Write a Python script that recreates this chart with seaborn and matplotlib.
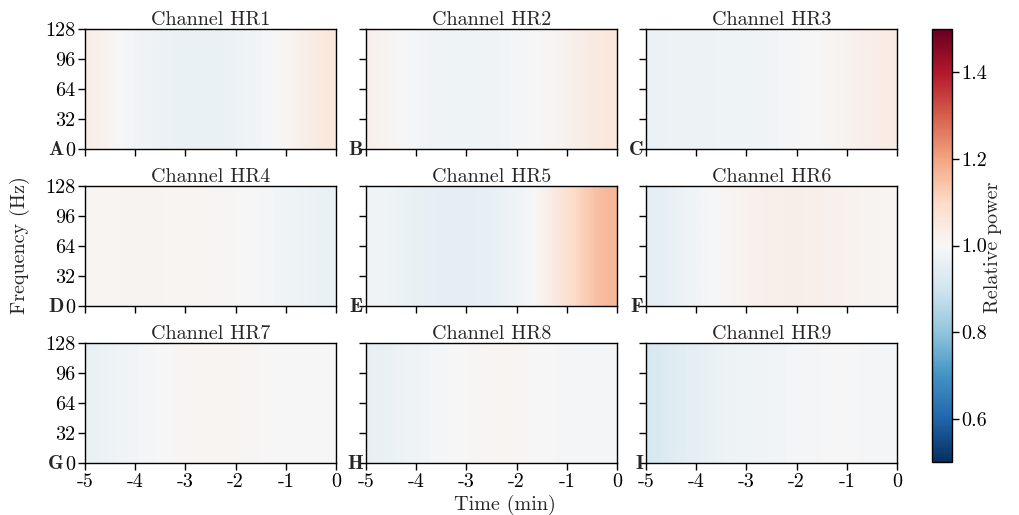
import numpy as np
import matplotlib
matplotlib.use("Agg")
import matplotlib.pyplot as plt
import seaborn as sns

sns.set_theme(style="ticks")
plt.rcParams['font.family'] = ['cmr10', 'DejaVu Serif']
plt.rcParams['axes.unicode_minus'] = False
plt.rcParams['mathtext.fontset'] = 'cm'
plt.rcParams['axes.formatter.use_mathtext'] = False

channels = ["HR1", "HR2", "HR3", "HR4", "HR5", "HR6", "HR7", "HR8", "HR9"]
letters = ["A", "B", "C", "D", "E", "F", "G", "H", "I"]
time_min = [-5, -4.5, -4, -3.5, -3, -2.5, -2, -1.5, -1, -0.5, 0]
freq_ticks = [0, 32, 64, 96, 128]
cbar_ticks = [0.6, 0.8, 1.0, 1.2, 1.4]

# relative power along time (one profile per channel)
hr1 = [1.03, 1.00, 0.98, 0.97, 0.965, 0.965, 0.97, 0.985, 1.00, 1.025, 1.055]
hr2 = [1.025, 1.00, 0.985, 0.98, 0.98, 0.98, 0.99, 1.00, 1.015, 1.035, 1.055]
hr3 = [0.97, 0.975, 0.975, 0.978, 0.98, 0.985, 0.995, 1.00, 1.015, 1.025, 1.04]
hr4 = [1.01, 1.012, 1.012, 1.012, 1.01, 1.008, 1.005, 0.998, 0.985, 0.975, 0.965]
hr5 = [0.985, 0.97, 0.96, 0.955, 0.955, 0.96, 0.975, 1.00, 1.06, 1.12, 1.17]
hr6 = [0.95, 0.97, 0.99, 1.01, 1.02, 1.025, 1.03, 1.025, 1.02, 1.015, 1.01]
hr7 = [0.965, 0.98, 0.99, 1.00, 1.01, 1.01, 1.01, 1.005, 1.00, 1.00, 1.00]
hr8 = [0.96, 0.975, 0.985, 0.995, 1.005, 1.01, 1.01, 1.00, 0.995, 0.99, 0.99]
hr9 = [0.92, 0.945, 0.96, 0.975, 0.98, 0.985, 0.99, 0.995, 1.00, 0.995, 0.99]
profiles = [hr1, hr2, hr3, hr4, hr5, hr6, hr7, hr8, hr9]

FS = 14.5

fig = plt.figure(figsize=(10.2, 5.15), dpi=100)
W, H = 1020.0, 515.0
col_x = [85, 366, 646]
ax_w = 251
row_y = [29, 186, 343]
ax_h = 120

cmap = sns.color_palette("RdBu_r", as_cmap=True)
im = None
for i, (name, prof) in enumerate(zip(channels, profiles)):
    r, c = divmod(i, 3)
    ax = fig.add_axes([col_x[c] / W, 1 - (row_y[r] + ax_h) / H, ax_w / W, ax_h / H])
    data = np.array([prof, prof])
    im = ax.imshow(data, cmap=cmap, vmin=0.5, vmax=1.5, aspect='auto',
                   origin='lower', extent=[-5, 0, 0, 128], interpolation='bicubic')
    ax.set_xlim(-5, 0)
    ax.set_ylim(0, 128)
    ax.set_xticks([-5, -4, -3, -2, -1, 0])
    ax.set_yticks(freq_ticks)
    ax.tick_params(direction='out', length=5, width=1, labelsize=FS, colors='black', pad=2)
    for s in ax.spines.values():
        s.set_color('black')
        s.set_linewidth(1.0)
    if c == 0:
        ax.set_yticklabels([str(v) for v in freq_ticks])
    else:
        ax.set_yticklabels([])
    if r == 2:
        ax.set_xticklabels(["-5", "-4", "-3", "-2", "-1", "0"])
    else:
        ax.set_xticklabels([])
    ax.set_title("Channel " + name, fontsize=FS, pad=2)
    # panel letter
    if c == 0:
        lx = 64
    else:
        lx = col_x[c] - 3
    fig.text(lx / W, 1 - (row_y[r] + ax_h + 6) / H, letters[i], ha='right', va='baseline',
             fontsize=FS, family=['cmb10', 'DejaVu Serif'])

cax = fig.add_axes([932 / W, 1 - 462 / H, 20 / W, 433 / H])
cb = fig.colorbar(im, cax=cax)
cb.set_ticks(cbar_ticks)
cb.set_ticklabels(["0.6", "0.8", "1.0", "1.2", "1.4"])
cb.ax.tick_params(direction='out', length=5, width=1, labelsize=FS, colors='black', pad=2)
cb.outline.set_edgecolor('black')
cb.outline.set_linewidth(1.0)
fig.text(993 / W, 1 - 247 / H, "Relative power", rotation=90, ha='center', va='center', fontsize=FS)

fig.text(20 / W, 1 - 245 / H, "Frequency (Hz)", rotation=90, ha='center', va='center', fontsize=FS)
fig.text(505 / W, 1 - 505 / H, "Time (min)", ha='center', va='center', fontsize=FS)

fig.savefig("out.png", dpi=100)
